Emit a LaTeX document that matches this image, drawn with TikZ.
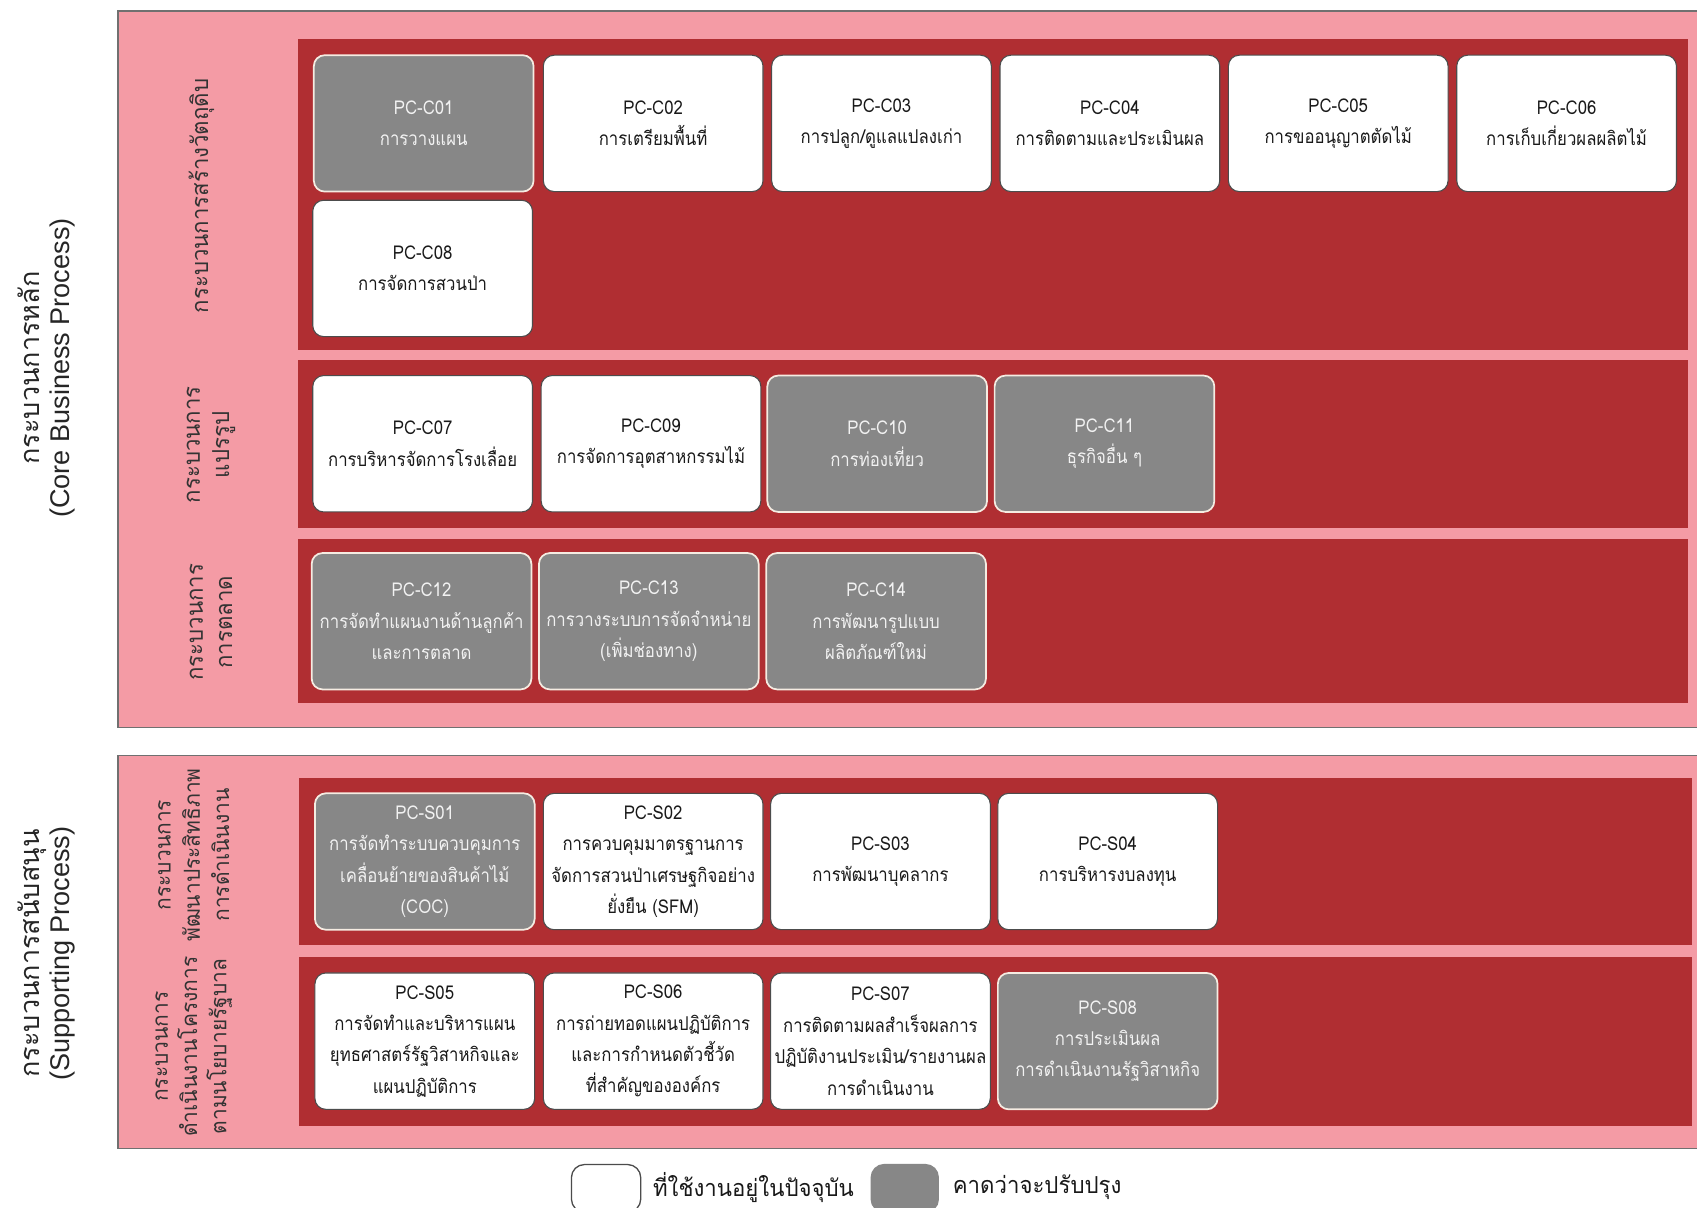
\documentclass[tikz,border=0pt]{standalone}
\usepackage{fontspec}
\newfontfamily\thaifont[Script=Thai]{Loma}
\newfontfamily\thaibox[Script=Thai,FakeStretch=0.88]{Loma}
\newfontfamily\thailabel[Script=Thai,FakeStretch=0.95]{Loma}
\newfontfamily\latinsans{Liberation Sans}
\definecolor{pinkbg}{RGB}{244,155,165}
\definecolor{redbg}{RGB}{176,46,50}
\definecolor{graybox}{RGB}{135,135,135}
\definecolor{frameline}{RGB}{112,112,112}
\definecolor{creamline}{RGB}{245,236,226}
\definecolor{lighttext}{RGB}{242,242,242}
\begin{document}
\begin{tikzpicture}[x=0.5pt,y=-0.5pt,
  outerpanel/.style={fill=pinkbg,draw=frameline,line width=0.7pt},
  band/.style={fill=redbg},
  curbox/.style={draw=black!70,fill=white,rounded corners=5pt,line width=0.5pt,
    minimum width=101.5pt,minimum height=63pt,inner sep=0pt,align=center,
    font=\thaibox\fontsize{8.8}{14.5}\selectfont,text=black!90},
  impbox/.style={curbox,fill=graybox,draw=creamline,line width=0.8pt,text=lighttext},
  sublabel/.style={rotate=90,align=center,inner sep=0pt,
    font=\thailabel\fontsize{10.8}{13.5}\selectfont,text=black!80},
  sublabelsm/.style={sublabel,font=\thailabel\fontsize{10.2}{13.5}\selectfont},
  biglabel/.style={rotate=90,align=center,inner sep=0pt,
    font=\latinsans\fontsize{12.5}{13.5}\selectfont,text=black!85},
  legcur/.style={draw=black!70,fill=white,rounded corners=6pt,line width=0.6pt,
    minimum width=32pt,minimum height=22pt,inner sep=0pt},
  legimp/.style={legcur,fill=graybox,draw=graybox,minimum width=31pt},
  legtext/.style={anchor=west,inner sep=0pt,font=\thailabel\fontsize{10.8}{13}\selectfont,text=black!90}
]
\useasboundingbox (0,0) rectangle (1568,1116);
\clip (0,0) rectangle (1568,1116);
\fill[white] (0,0) rectangle (1568,1116);

% outer panels
\path[outerpanel] (109,10) rectangle (1580,672);
\path[outerpanel] (109,698) rectangle (1580,1061);

% red bands
\path[band] (275,36) rectangle (1560,323);
\path[band] (275,333) rectangle (1560,488);
\path[band] (275,498) rectangle (1560,650);
\path[band] (276,719) rectangle (1563,873);
\path[band] (276,884) rectangle (1563,1040);

% big side labels
\node[biglabel] (corelbl) at (43,340) {{\thaifont กระบวนการหลัก}\\(Core Business Process)};
\node[biglabel] (suplbl) at (43,881) {{\thaifont กระบวนการสนับสนุน}\\(Supporting Process)};

% sub labels
\node[sublabel] (l1) at (186,181) {กระบวนการสร้างวัตถุดิบ};
\node[sublabel] (l2) at (195,411) {กระบวนการ\\แปรรูป};
\node[sublabel] (l3) at (195,575) {กระบวนการ\\การตลาด};
\node[sublabelsm] (l4) at (179,790) {กระบวนการ\\พัฒนาประสิทธิภาพ\\การดำเนินงาน};
\node[sublabelsm] (l5) at (179,967) {กระบวนการ\\ดำเนินงานโครงการ\\ตามนโยบายรัฐบาล};

% row 1
\node[impbox] (c01) at (391.5,114) {PC-C01\\การวางแผน};
\node[curbox] (c02) at (603.5,114) {PC-C02\\การเตรียมพื้นที่};
\node[curbox] (c03) at (814.5,114) {PC-C03\\การปลูก/ดูแลแปลงเก่า};
\node[curbox] (c04) at (1025.5,114) {PC-C04\\การติดตามและประเมินผล};
\node[curbox] (c05) at (1236.5,114) {PC-C05\\การขออนุญาตตัดไม้};
\node[curbox] (c06) at (1447.5,114) {PC-C06\\การเก็บเกี่ยวผลผลิตไม้};
\node[curbox] (c08) at (390.5,248) {PC-C08\\การจัดการสวนป่า};

% row 2
\node[curbox] (c07) at (390.5,410) {PC-C07\\การบริหารจัดการโรงเลื่อย};
\node[curbox] (c09) at (601.5,410) {PC-C09\\การจัดการอุตสาหกรรมไม้};
\node[impbox] (c10) at (810.5,410) {PC-C10\\การท่องเที่ยว};
\node[impbox] (c11) at (1020.5,410) {PC-C11\\ธุรกิจอื่น ๆ};

% row 3
\node[impbox] (c12) at (389.5,574) {PC-C12\\การจัดทำแผนงานด้านลูกค้า\\และการตลาด};
\node[impbox] (c13) at (599.5,574) {PC-C13\\การวางระบบการจัดจำหน่าย\\(เพิ่มช่องทาง)};
\node[impbox] (c14) at (809.5,574) {PC-C14\\การพัฒนารูปแบบ\\ผลิตภัณฑ์ใหม่};

% row 4
\node[impbox] (s01) at (392.5,796) {PC-S01\\การจัดทำระบบควบคุมการ\\เคลื่อนย้ายของสินค้าไม้\\(COC)};
\node[curbox] (s02) at (603.5,796) {PC-S02\\การควบคุมมาตรฐานการ\\จัดการสวนป่าเศรษฐกิจอย่าง\\ยั่งยืน (SFM)};
\node[curbox] (s03) at (813.5,796) {PC-S03\\การพัฒนาบุคลากร};
\node[curbox] (s04) at (1023.5,796) {PC-S04\\การบริหารงบลงทุน};

% row 5
\node[curbox] (s05) at (392.5,962) {PC-S05\\การจัดทำและบริหารแผน\\ยุทธศาสตร์รัฐวิสาหกิจและ\\แผนปฏิบัติการ};
\node[curbox] (s06) at (603.5,962) {PC-S06\\การถ่ายทอดแผนปฏิบัติการ\\และการกำหนดตัวชี้วัด\\ที่สำคัญขององค์กร};
\node[curbox] (s07) at (813.5,962) {PC-S07\\การติดตามผลสำเร็จผลการ\\ปฏิบัติงานประเมิน/รายงานผล\\การดำเนินงาน};
\node[impbox] (s08) at (1023.5,962) {PC-S08\\การประเมินผล\\การดำเนินงานรัฐวิสาหกิจ};

% legend
\node[legcur] (legA) at (560,1098) {};
\node[legtext] (legAt) at (603,1097) {ที่ใช้งานอยู่ในปัจจุบัน};
\node[legimp] (legB) at (836,1098) {};
\node[legtext] (legBt) at (880,1097) {คาดว่าจะปรับปรุง};
\end{tikzpicture}
\end{document}
